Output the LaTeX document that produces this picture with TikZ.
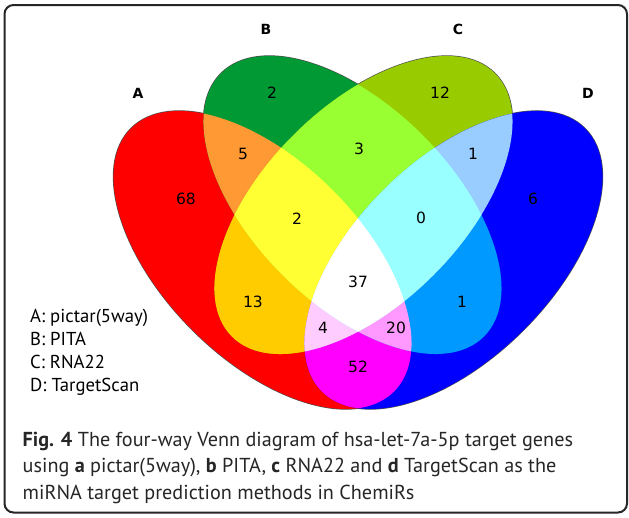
\documentclass[tikz,border=0pt]{standalone}
\usepackage{fontspec}
\setmainfont{PT Sans}
\newfontfamily\numfont{DejaVu Sans}

% region colours of the four-set Venn diagram
\definecolor{cA}{HTML}{FF0000}
\definecolor{cB}{HTML}{009933}
\definecolor{cC}{HTML}{99CC00}
\definecolor{cD}{HTML}{0000FF}
\definecolor{cAB}{HTML}{FF9933}
\definecolor{cAC}{HTML}{FFCC00}
\definecolor{cAD}{HTML}{FF00FF}
\definecolor{cBC}{HTML}{99FF33}
\definecolor{cBD}{HTML}{0099FF}
\definecolor{cCD}{HTML}{99CCFF}
\definecolor{cABC}{HTML}{FFFF33}
\definecolor{cABD}{HTML}{FF99FF}
\definecolor{cACD}{HTML}{FFCCFF}
\definecolor{cBCD}{HTML}{99FFFF}
\definecolor{cABCD}{HTML}{FFFFFF}

% one oval; each set places it with its own shift and tilt
\newcommand\ovalpath{(0,0) ellipse [x radius=186, y radius=99]}
\newcommand\sheet{(0,0) rectangle (629,517)}

\tikzset{
  ellA/.style={shift={(262.5,260)}, rotate=-45},
  ellB/.style={shift={(352.5,205)}, rotate=-45},
  ellC/.style={shift={(363.5,205)}, rotate=45},
  ellD/.style={shift={(453.5,260)}, rotate=45},
  ovaledge/.style={draw=black!70, line width=1.3pt},
  frame/.style={draw=black!85, line width=2pt, rounded corners=9pt},
  num/.style={font=\numfont\fontsize{15.5}{18}\selectfont, inner sep=0pt},
  setlabel/.style={font=\numfont\bfseries\fontsize{14}{16}\selectfont, inner sep=0pt},
  legend/.style={font=\fontsize{18.7}{22}\selectfont, anchor=base west, inner sep=0pt},
  caption/.style={font=\fontsize{20.2}{24}\selectfont, text=black!85, anchor=base west, inner sep=0pt},
}

\begin{document}
\begin{tikzpicture}[x=1pt, y=-1pt]
  \useasboundingbox \sheet;
  \fill[white] \sheet;

  % outer silhouette: only the outer half of each stroke stays visible
  \draw[ovaledge, ellA] \ovalpath;
  \draw[ovaledge, ellB] \ovalpath;
  \draw[ovaledge, ellC] \ovalpath;
  \draw[ovaledge, ellD] \ovalpath;

  % single sets
  \fill[cA, ellA] \ovalpath;
  \fill[cB, ellB] \ovalpath;
  \fill[cC, ellC] \ovalpath;
  \fill[cD, ellD] \ovalpath;

  % pairs
  \begin{scope}\clip[ellA] \ovalpath; \clip[ellB] \ovalpath; \fill[cAB] \sheet; \end{scope}
  \begin{scope}\clip[ellA] \ovalpath; \clip[ellC] \ovalpath; \fill[cAC] \sheet; \end{scope}
  \begin{scope}\clip[ellA] \ovalpath; \clip[ellD] \ovalpath; \fill[cAD] \sheet; \end{scope}
  \begin{scope}\clip[ellB] \ovalpath; \clip[ellC] \ovalpath; \fill[cBC] \sheet; \end{scope}
  \begin{scope}\clip[ellB] \ovalpath; \clip[ellD] \ovalpath; \fill[cBD] \sheet; \end{scope}
  \begin{scope}\clip[ellC] \ovalpath; \clip[ellD] \ovalpath; \fill[cCD] \sheet; \end{scope}

  % triples
  \begin{scope}\clip[ellA] \ovalpath; \clip[ellB] \ovalpath; \clip[ellC] \ovalpath; \fill[cABC] \sheet; \end{scope}
  \begin{scope}\clip[ellA] \ovalpath; \clip[ellB] \ovalpath; \clip[ellD] \ovalpath; \fill[cABD] \sheet; \end{scope}
  \begin{scope}\clip[ellA] \ovalpath; \clip[ellC] \ovalpath; \clip[ellD] \ovalpath; \fill[cACD] \sheet; \end{scope}
  \begin{scope}\clip[ellB] \ovalpath; \clip[ellC] \ovalpath; \clip[ellD] \ovalpath; \fill[cBCD] \sheet; \end{scope}

  % all four
  \begin{scope}\clip[ellA] \ovalpath; \clip[ellB] \ovalpath; \clip[ellC] \ovalpath; \clip[ellD] \ovalpath; \fill[cABCD] \sheet; \end{scope}

  % set names
  \node[setlabel] (labA) at (138,93) {A};
  \node[setlabel] (labB) at (266,29) {B};
  \node[setlabel] (labC) at (458,29) {C};
  \node[setlabel] (labD) at (588,93) {D};

  % region counts
  \node[num] (nA)    at (186,199) {68};
  \node[num] (nB)    at (272,93)  {2};
  \node[num] (nC)    at (440,93)  {12};
  \node[num] (nD)    at (533,199) {6};
  \node[num] (nAB)   at (243,154) {5};
  \node[num] (nBC)   at (359,149) {3};
  \node[num] (nCD)   at (473,154) {1};
  \node[num] (nABC)  at (297,219) {2};
  \node[num] (nBCD)  at (421,218) {0};
  \node[num] (nABCD) at (358,282) {37};
  \node[num] (nAC)   at (253,302) {13};
  \node[num] (nBD)   at (462,302) {1};
  \node[num] (nACD)  at (323,328) {4};
  \node[num] (nABD)  at (396,328) {20};
  \node[num] (nAD)   at (358,367) {52};

  % legend
  \node[legend] (legA) at (30,322.7) {A: pictar(5way)};
  \node[legend] (legB) at (30,345.7) {B: PITA};
  \node[legend] (legC) at (30,368.7) {C: RNA22};
  \node[legend] (legD) at (30,391.7) {D: TargetScan};

  % caption
  \node[caption] (cap1) at (22.5,446) {\textbf{Fig. 4} The four-way Venn diagram of hsa-let-7a-5p target genes};
  \node[caption] (cap2) at (22.5,472.5) {using \textbf{a} pictar(5way), \textbf{b} PITA, \textbf{c} RNA22 and \textbf{d} TargetScan as the};
  \node[caption] (cap3) at (22.5,499) {miRNA target prediction methods in ChemiRs};

  % figure frame
  \draw[frame] (4.5,5) rectangle (627,512.5);
\end{tikzpicture}
\end{document}
